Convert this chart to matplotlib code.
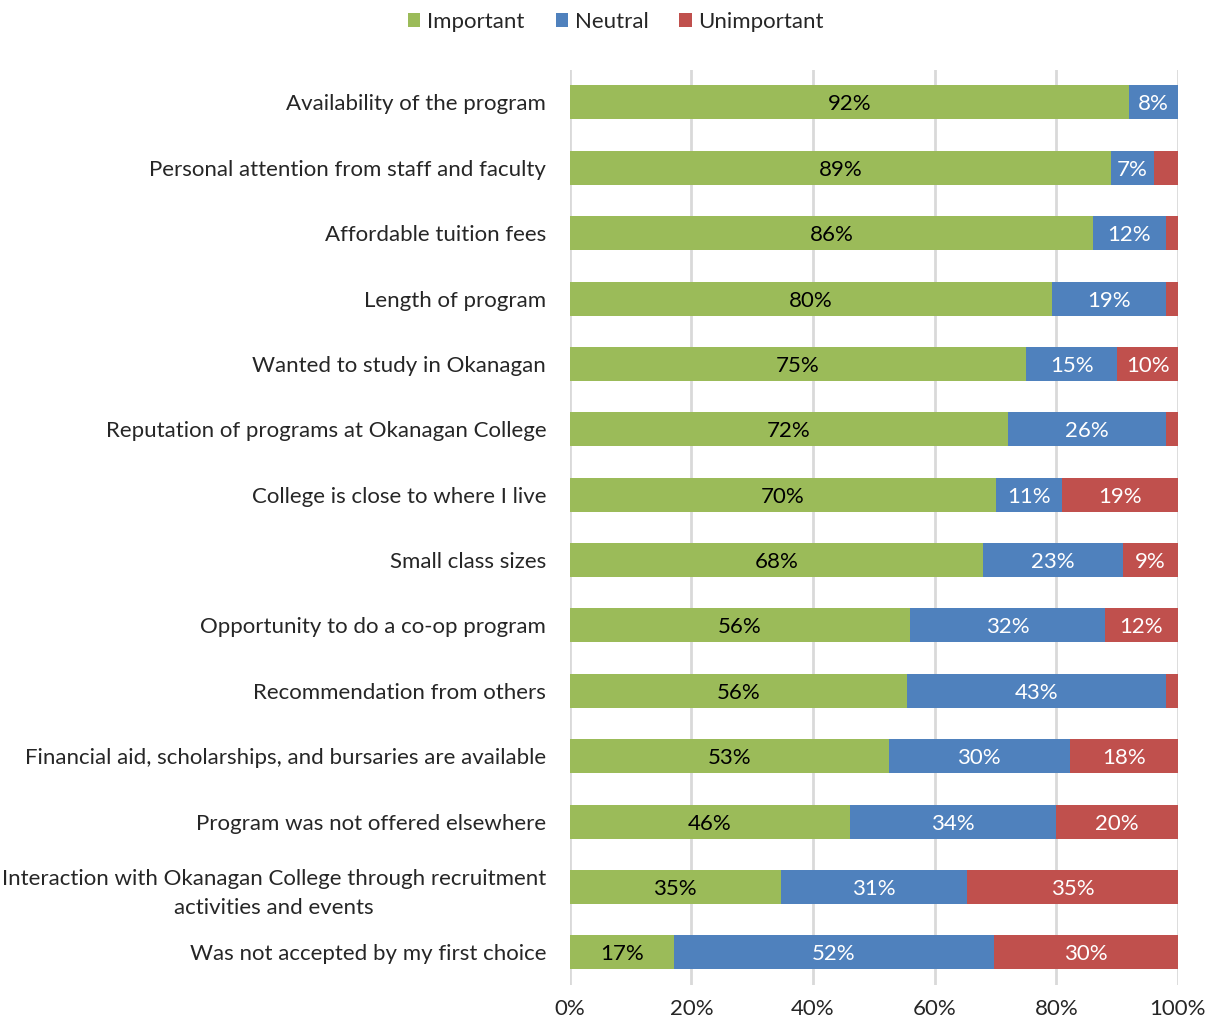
import numpy as np
import matplotlib.pyplot as plt
from matplotlib.ticker import PercentFormatter

plt.rcParams['font.family'] = ['Lato', 'DejaVu Sans']

categories = [
    "Availability of the program",
    "Personal attention from staff and faculty",
    "Affordable tuition fees",
    "Length of program",
    "Wanted to study in Okanagan",
    "Reputation of programs at Okanagan College",
    "College is close to where I live",
    "Small class sizes",
    "Opportunity to do a co-op program",
    "Recommendation from others",
    "Financial aid, scholarships, and bursaries are available",
    "Program was not offered elsewhere",
    "Interaction with Okanagan College through recruitment\nactivities and events",
    "Was not accepted by my first choice",
]
important = [92, 89, 86, 80, 75, 72, 70, 68, 56, 56, 53, 46, 35, 17]
neutral = [8, 7, 12, 19, 15, 26, 11, 23, 32, 43, 30, 34, 31, 52]
unimportant = [0, 4, 2, 2, 10, 2, 19, 9, 12, 2, 18, 20, 35, 30]

series = [("Important", important, "#9BBB59", "black"),
          ("Neutral", neutral, "#4F81BD", "white"),
          ("Unimportant", unimportant, "#C0504D", "white")]

# 100% stacked: normalise each row
data = np.array([important, neutral, unimportant], dtype=float)
share = data / data.sum(axis=0) * 100

fig = plt.figure(figsize=(12.15, 10.25), dpi=100)
ax = fig.add_axes([0.469, 0.039, 0.5005, 0.893])

y = np.arange(len(categories))
left = np.zeros(len(categories))
for i, (name, vals, col, tcol) in enumerate(series):
    bars = ax.barh(y, share[i], left=left, height=0.52, color=col, label=name, zorder=3)
    labels = [f"{v}%" if v >= 5 else "" for v in vals]
    txts = ax.bar_label(bars, labels=labels, label_type="center", color=tcol, fontsize=16)
    for t in txts:
        t.set_va("center_baseline")
    left += share[i]

ax.set_xlim(0, 100)
ax.set_ylim(len(categories) - 0.5, -0.5)
ax.set_yticks(y)
ax.set_yticklabels(categories, fontsize=16, color="#262626")
for t in ax.get_yticklabels():
    t.set_multialignment("center")
    t.set_linespacing(1.55)
ax.set_xticks(np.arange(0, 101, 20))
ax.xaxis.set_major_formatter(PercentFormatter(decimals=0))
ax.tick_params(axis="x", labelsize=16, colors="#262626", length=0, pad=10)
ax.tick_params(axis="y", length=0, pad=17)
ax.grid(axis="x", color="#D9D9D9", linewidth=2, zorder=0)
for s in ax.spines.values():
    s.set_visible(False)

fig.legend(loc="upper center", bbox_to_anchor=(0.507, 1.008), ncol=3, frameon=False,
           fontsize=16, handlelength=0.55, handleheight=0.55, handletextpad=0.3,
           columnspacing=1.4, labelcolor="#262626")

fig.savefig("out.png", dpi=100)
